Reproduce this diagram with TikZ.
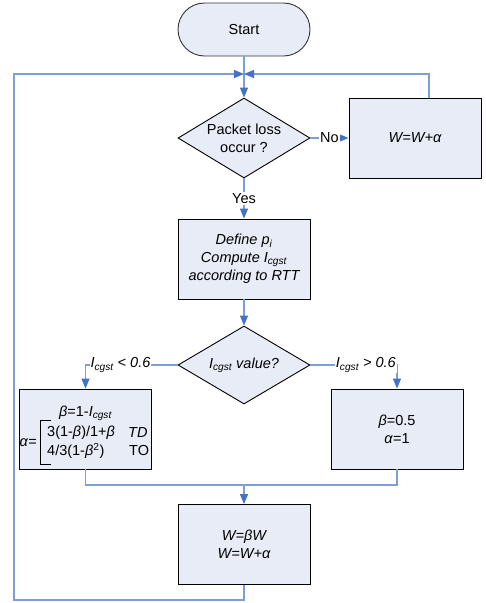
\documentclass[tikz,border=0pt]{standalone}
\usepackage{fontspec}
\setmainfont{Liberation Sans}
\usetikzlibrary{shapes.geometric,arrows.meta}
\definecolor{linec}{RGB}{125,158,214}
\definecolor{arrc}{RGB}{68,114,196}
\definecolor{boxf}{RGB}{231,236,246}
\begin{document}
\begin{tikzpicture}[x=1pt,y=-1pt,
  font=\fontsize{14.5}{18}\selectfont,
  it/.style={font=\fontsize{14.5}{18}\selectfont\itshape},
  box/.style={draw=black, fill=boxf, line width=0.9pt, minimum width=132pt, minimum height=80pt, inner sep=0pt, align=center},
  term/.style={box, minimum height=53pt, rounded corners=26.5pt, draw=black!80},
  dia/.style={draw=black, fill=boxf, line width=0.9pt, diamond, minimum width=132pt, minimum height=80pt, inner sep=0pt},
  conn/.style={draw=linec, line width=1.1pt},
  arr/.style={conn, -{Triangle[length=10pt,width=8pt,fill=arrc,color=arrc]}},
  lab/.style={fill=white, inner sep=1pt}]
\useasboundingbox (0,0) rectangle (486,603);
% nodes
\node[term] (start) at (244,29.5) {Start};
\node[dia] (d1) at (244,138) {};
\node[align=center] (d1t) at (d1) {Packet loss\\occur ?};
\node[box, it] (inc) at (415,138) {W=W+α};
\node[box, it] (def) at (244,259) {Define p\textsubscript{i}\\Compute I\textsubscript{cgst}\\according to RTT};
\node[dia, minimum height=78pt] (d2) at (244,365) {};
\node[it] (d2t) at (d2) {I\textsubscript{cgst} value?};
\node[box] (lb) at (85.5,429) {};
\node[box] (rb) at (397,429) {\textit{β}=0.5\\\textit{α}=1};
\node[box, it] (fin) at (244,544.5) {W=βW\\W=W+α};
% left box content
\node (lb1) at (85.5,413) {\textit{β}=1-\textit{I}\textsubscript{\itshape cgst}};
\node[anchor=west, inner sep=0pt] (lb2) at (47,433) {3(1-\textit{β})/1+\textit{β}};
\node[anchor=west, inner sep=0pt] (lb2b) at (128,433) {\textit{TD}};
\node[anchor=west, inner sep=0pt] (lb3) at (47,451) {4/3(1-\textit{β}\textsuperscript{2})};
\node[anchor=west, inner sep=0pt] (lb3b) at (129,451) {TO};
\node[anchor=west, inner sep=0pt] (lbal) at (19.5,443) {\textit{α}=};
\draw[line width=0.8pt] (51,420.5) -- (40.5,420.5) -- (40.5,464) -- (51,464);
% coordinates
\coordinate (j) at (244,74);
\coordinate (m) at (244,485);
\coordinate (bl) at (14,600);
\coordinate (tl) at (14,74);
\coordinate (tr) at (429,74);
% connectors
\draw[conn] (start) -- (j);
\draw[arr] (j) -- (d1);
\draw[arr] (d1) -- node[lab]{No} (inc);
\draw[arr] (d1) -- node[lab]{Yes} (def);
\draw[arr] (def) -- (d2);
\draw[arr] (d2.west) -| node[lab, it, pos=0.31]{I\textsubscript{cgst} < 0.6} (lb.north);
\draw[arr] (d2.east) -| node[lab, it, pos=0.32]{I\textsubscript{cgst} > 0.6} (rb.north);
\draw[conn] (lb.south) |- (m) -| (rb.south);
\draw[arr] (m) -- (fin);
\draw[arr] (fin.south) |- (bl) -- (tl) -- (j);
\draw[arr] (tr |- inc.north) -- (tr) -- (j);
\end{tikzpicture}
\end{document}
